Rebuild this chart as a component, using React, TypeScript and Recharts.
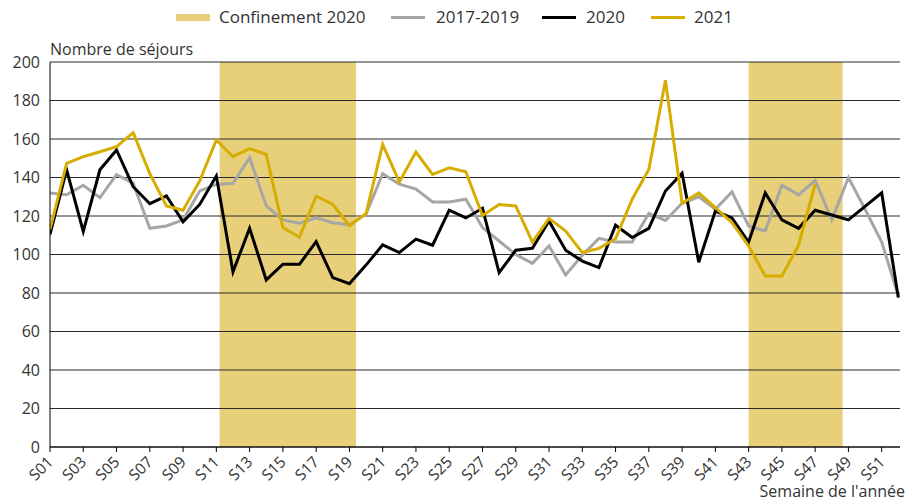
import React from 'react';
import { LineChart, Line, XAxis, YAxis, CartesianGrid, ReferenceArea } from 'recharts';

// weeks of the year (S01..S52)
const weeks = [
    1, 2, 3, 4, 5, 6, 7, 8, 9, 10, 11, 12, 13, 14, 15, 16, 17, 18, 19, 20, 21, 22, 23, 24, 25, 26,
    27, 28, 29, 30, 31, 32, 33, 34, 35, 36, 37, 38, 39, 40, 41, 42, 43, 44, 45, 46, 47, 48, 49, 50, 51, 52,
];

// Nombre de séjours par semaine
const avg2017_2019 = [
    132, 131, 136, 129.5, 141.5, 137, 113.6, 114.8, 118, 133, 136.4, 137, 150.3, 125.2, 118, 116.2, 119.1,
    116.5, 115.3, 121, 142, 136.5, 134, 127.3, 127.3, 128.7, 114, 107, 100, 95.4, 104.4, 89.4, 99.6, 108.4,
    106.5, 106.5, 121.4, 117.7, 126.6, 130, 123.5, 132.5, 114.8, 112.2, 136, 131, 138.5, 118, 140, 123.5,
    106.5, 78.5,
];
const year2020 = [
    110.5, 144, 112, 144, 154.3, 135.2, 126.4, 130.4, 117, 126, 140.8, 91, 113.6, 86.8, 95, 95, 106.7, 88,
    84.8, 94.5, 105, 101, 108, 104.8, 123, 119, 124, 90.6, 102.2, 103.2, 117.4, 102.2, 96.6, 93.2, 115.2,
    108.8, 113.6, 133, 142.2, 96, 122.6, 119, 106.5, 132, 118, 113.6, 123, 120.5, 118, 125, 132, 77.6,
];
const year2021 = [
    113, 147.4, 150.8, 153.4, 156, 163.3, 142, 125.2, 123, 138.2, 159.5, 150.8, 155, 152, 114, 109, 130.4,
    126, 115, 121.3, 157.2, 137.7, 153.2, 141.6, 145, 143, 120.3, 126, 125.2, 106.5, 118.8, 112.2, 101,
    103.2, 108.2, 128.7, 144.2, 190.5, 126.6, 132, 124.3, 116.5, 104.4, 88.8, 88.8, 104.8, 136.5,
];

// periods of lockdown, in week units
const lockdowns = [
    { from: 11.2, to: 19.4 },
    { from: 43, to: 48.65 },
];

const yTicks = [0, 20, 40, 60, 80, 100, 120, 140, 160, 180, 200];
const xTicks = [1, 3, 5, 7, 9, 11, 13, 15, 17, 19, 21, 23, 25, 27, 29, 31, 33, 35, 37, 39, 41, 43, 45, 47, 49, 51];

const BAND = '#e8cf7a';
const GREY = '#a6a6a6';
const BLACK = '#000000';
const GOLD = '#d6ad00';
const TEXT = '#333333';
const GRID = '#2a2a2a';
const FONT = '"Open Sans", sans-serif';

const data = weeks.map((w, i) => ({
    week: w,
    ref: avg2017_2019[i],
    y2020: year2020[i],
    y2021: i < year2021.length ? year2021[i] : null,
}));

const weekLabel = (w: number) => `S${String(w).padStart(2, '0')}`;

const WeekTick = (props: any) => {
    const { x, y, payload } = props;
    const tx = x + 4;
    const ty = y + 9;
    return (
        <text
            x={tx}
            y={ty}
            transform={`rotate(-45 ${tx} ${ty})`}
            textAnchor="end"
            fontSize={15.5}
            fontFamily={FONT}
            fill={TEXT}
        >
            {weekLabel(payload.value)}
        </text>
    );
};

const legendItems = [
    { label: 'Confinement 2020', color: BAND, swatchLeft: 176, textLeft: 219, box: true },
    { label: '2017-2019', color: GREY, swatchLeft: 391, textLeft: 436, box: false },
    { label: '2020', color: BLACK, swatchLeft: 542, textLeft: 586, box: false },
    { label: '2021', color: GOLD, swatchLeft: 651, textLeft: 694, box: false },
];

export default function App() {
    return (
        <div
            style={{
                position: 'absolute',
                left: 0,
                top: 0,
                width: 911,
                height: 501,
                background: '#fff',
                fontFamily: FONT,
                color: TEXT,
            }}
        >
            {legendItems.map((item) => (
                <React.Fragment key={item.label}>
                    <div
                        style={{
                            position: 'absolute',
                            left: item.swatchLeft,
                            top: item.box ? 14 : 16,
                            width: 34,
                            height: item.box ? 7 : 3,
                            background: item.color,
                        }}
                    />
                    <div
                        style={{
                            position: 'absolute',
                            left: item.textLeft,
                            top: 7,
                            fontSize: 17,
                            lineHeight: '20px',
                            whiteSpace: 'nowrap',
                        }}
                    >
                        {item.label}
                    </div>
                </React.Fragment>
            ))}

            <div style={{ position: 'absolute', left: 50, top: 39, fontSize: 16, lineHeight: '20px', whiteSpace: 'nowrap' }}>
                Nombre de séjours
            </div>
            <div
                style={{ position: 'absolute', right: 6, top: 483, fontSize: 16, lineHeight: '16px', whiteSpace: 'nowrap' }}
            >
                Semaine de l'année
            </div>

            <div style={{ position: 'absolute', left: 0, top: 0 }}>
                <LineChart width={911} height={501} data={data} margin={{ top: 62, right: 11, bottom: 14, left: 0 }}>
                    {/* bands sit below the gridlines (grid layer is -100) */}
                    {lockdowns.map((p) => (
                        <ReferenceArea
                            key={p.from}
                            x1={p.from}
                            x2={p.to}
                            y1={0}
                            y2={200}
                            fill={BAND}
                            fillOpacity={1}
                            stroke="none"
                            zIndex={-150}
                        />
                    ))}
                    <CartesianGrid vertical={false} stroke={GRID} strokeWidth={1} />
                    <XAxis
                        dataKey="week"
                        type="number"
                        domain={[1, 52.1]}
                        ticks={xTicks}
                        interval={0}
                        height={40}
                        tick={<WeekTick />}
                        tickSize={5}
                        axisLine={{ stroke: '#000' }}
                        tickLine={{ stroke: '#000' }}
                        allowDataOverflow
                    />
                    <YAxis
                        domain={[0, 200]}
                        ticks={yTicks}
                        width={50}
                        tickLine={false}
                        tickSize={0}
                        tickMargin={10}
                        axisLine={{ stroke: '#000' }}
                        tick={{ fontSize: 16, fill: TEXT, fontFamily: FONT }}
                    />
                    <Line dataKey="ref" stroke={GREY} strokeWidth={3} dot={false} isAnimationActive={false} />
                    <Line dataKey="y2020" stroke={BLACK} strokeWidth={3} dot={false} isAnimationActive={false} />
                    <Line
                        dataKey="y2021"
                        stroke={GOLD}
                        strokeWidth={3}
                        dot={false}
                        connectNulls={false}
                        isAnimationActive={false}
                    />
                </LineChart>
            </div>
        </div>
    );
}
